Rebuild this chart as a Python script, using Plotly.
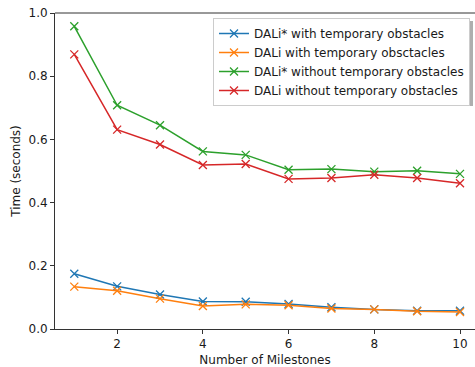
import plotly.graph_objects as go

milestones = [1, 2, 3, 4, 5, 6, 7, 8, 9, 10]
dalistar_with = [0.175, 0.135, 0.109, 0.087, 0.086, 0.079, 0.069, 0.062, 0.058, 0.058]
dali_with = [0.134, 0.121, 0.096, 0.073, 0.078, 0.075, 0.065, 0.062, 0.056, 0.054]
dalistar_without = [0.958, 0.708, 0.645, 0.562, 0.551, 0.504, 0.506, 0.498, 0.501, 0.491]
dali_without = [0.869, 0.631, 0.584, 0.519, 0.522, 0.475, 0.478, 0.488, 0.478, 0.461]
names = ["DALi* with temporary obstacles", "DALi with temporary obsctacles",
         "DALi* without temporary obstacles", "DALi without temporary obstacles"]
colors = ["#1f77b4", "#ff7f0e", "#2ca02c", "#d62728"]

fig = go.Figure()
for ys, n, c in zip([dalistar_with, dali_with, dalistar_without, dali_without], names, colors):
    fig.add_trace(go.Scatter(x=milestones, y=ys, name=n, mode="lines+markers",
                             line=dict(color=c, width=1.5),
                             marker=dict(symbol="x-thin-open", size=8, line=dict(color=c, width=1.3))))

font = "DejaVu Sans"
# legend right edge at ~470px
leg_right = (470 - 55) / 420.0
fig.update_layout(
    width=475, height=367,
    margin=dict(l=55, r=0, t=13, b=38),
    plot_bgcolor="white", paper_bgcolor="white",
    font=dict(family=font, size=12, color="#1a1a1a"),
    showlegend=True,
    legend=dict(x=leg_right, y=(329 - 18) / 316.0, xanchor="right", yanchor="top",
                bgcolor="rgba(255,255,255,1)", bordercolor="#cccccc", borderwidth=1,
                font=dict(size=12), tracegroupgap=0, itemwidth=30),
    xaxis=dict(range=[0.55, 10.35], tickvals=[2, 4, 6, 8, 10], showgrid=False, zeroline=False,
               showline=True, linecolor="#333", linewidth=1, mirror=False,
               ticks="outside", ticklen=4, tickcolor="#333",
               title=dict(text="Number of Milestones", standoff=7, font=dict(size=12))),
    yaxis=dict(range=[0, 1.0], tickvals=[0, 0.2, 0.4, 0.6, 0.8, 1.0], tickformat=".1f",
               showgrid=False, zeroline=False, showline=True, linecolor="#333", linewidth=1,
               ticks="outside", ticklen=4, tickcolor="#333",
               title=dict(text="Time (seconds)", standoff=5, font=dict(size=12))),
)
# top spine
fig.add_shape(type="line", xref="paper", yref="paper", x0=0, x1=1, y0=1, y1=1,
              line=dict(color="#333", width=1))
# legend drop shadow
def px_x(p):
    return (p - 55) / 420.0
def px_y(p):
    return (329.0 - p) / 316.0
fig.add_shape(type="rect", xref="paper", yref="paper", layer="above",
              x0=px_x(218), x1=px_x(473), y0=px_y(106), y1=px_y(21),
              fillcolor="#8c8c8c", line=dict(width=0), opacity=0.7)
fig.write_html("out.html")
